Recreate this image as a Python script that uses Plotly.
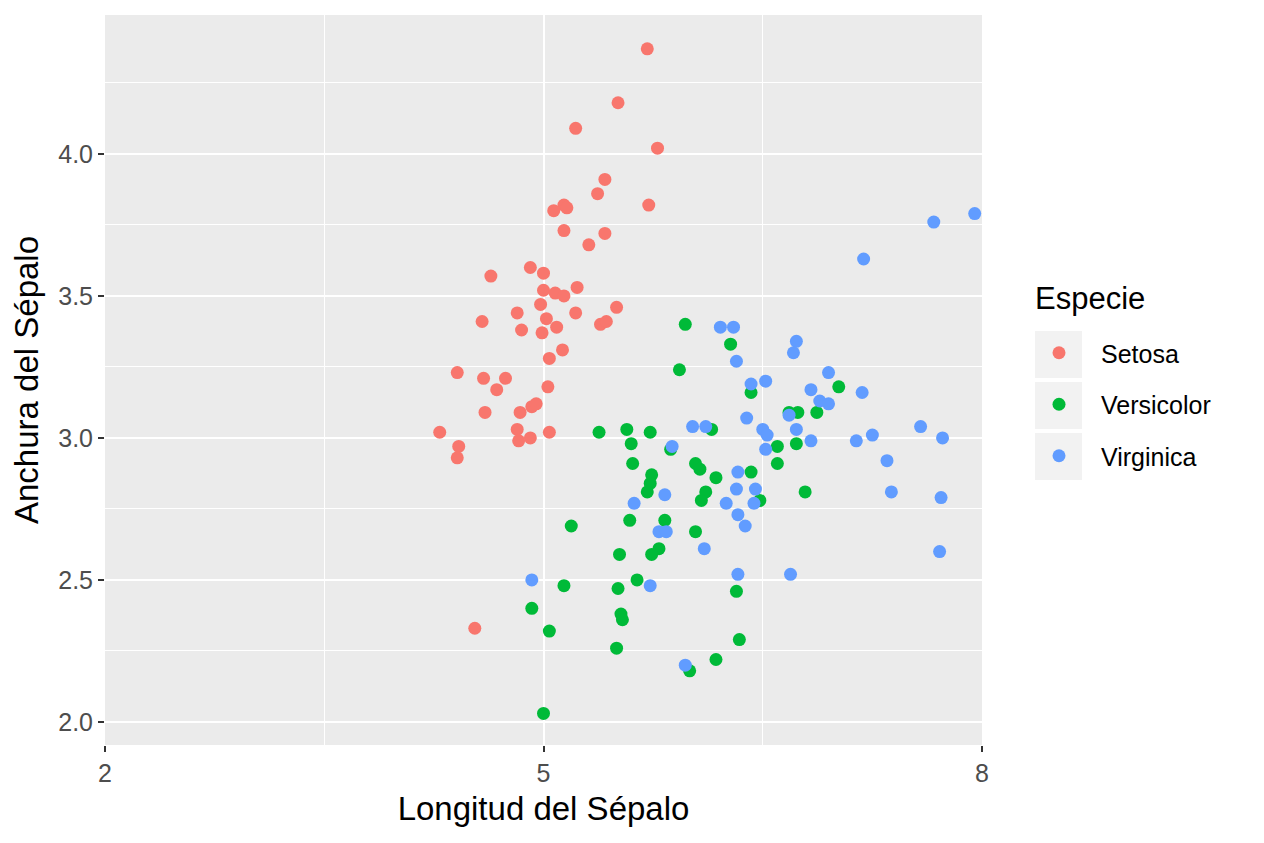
import plotly.graph_objects as go

# ---------------------------------------------------------
# Data (jittered iris sepal measures)
# ---------------------------------------------------------
species = ["Setosa", "Versicolor", "Virginica"]
colors = ["#F8766D", "#00BA38", "#619CFF"]

setosa_x = [5.71, 5.51, 5.22, 5.78, 5.42, 5.37, 5.14, 5.16, 5.07, 5.72,
            5.14, 5.42, 5.31, 4.64, 4.91, 5.00, 5.00, 5.08, 5.14, 5.23,
            4.98, 4.82, 4.58, 5.02, 5.22, 5.50, 5.39, 5.43, 4.85, 5.09,
            4.99, 5.13, 5.04, 4.41, 4.59, 4.74, 4.68, 5.03, 4.92, 4.95,
            4.60, 4.84, 4.29, 4.82, 4.83, 4.91, 5.04, 4.42, 4.41, 4.53]
setosa_y = [4.37, 4.18, 4.09, 4.02, 3.91, 3.86, 3.82, 3.81, 3.80, 3.82,
            3.73, 3.72, 3.68, 3.57, 3.60, 3.58, 3.52, 3.51, 3.50, 3.53,
            3.47, 3.44, 3.41, 3.42, 3.44, 3.46, 3.40, 3.41, 3.38, 3.39,
            3.37, 3.31, 3.28, 3.23, 3.21, 3.21, 3.17, 3.18, 3.11, 3.12,
            3.09, 3.09, 3.02, 3.03, 2.99, 3.00, 3.02, 2.97, 2.93, 2.33]

versicolor_x = [5.97, 6.28, 5.93, 6.42, 6.68, 6.74, 6.87, 7.02, 6.60, 6.73,
                6.60, 6.79, 6.15, 5.38, 5.57, 5.60, 5.73, 5.87, 5.61, 6.04,
                6.07, 6.18, 6.42, 5.74, 5.73, 5.71, 6.11, 6.08, 6.48, 5.59,
                5.83, 5.19, 6.04, 5.52, 5.79, 5.74, 5.14, 5.64, 5.51, 4.92,
                5.53, 5.54, 5.04, 5.50, 5.00, 6.32, 6.34, 6.18, 6.00]
versicolor_y = [3.40, 3.33, 3.24, 3.16, 3.09, 3.09, 3.09, 3.18, 2.97, 2.98,
                2.91, 2.81, 3.03, 3.02, 3.03, 2.98, 3.02, 2.96, 2.91, 2.91,
                2.89, 2.86, 2.88, 2.87, 2.84, 2.81, 2.81, 2.78, 2.78, 2.71,
                2.71, 2.69, 2.67, 2.59, 2.61, 2.59, 2.48, 2.50, 2.47, 2.40,
                2.38, 2.36, 2.32, 2.26, 2.03, 2.46, 2.29, 2.22, 2.18]

virginica_x = [6.21, 6.30, 6.73, 6.71, 6.32, 6.42, 6.52, 6.83, 6.89, 6.95,
               6.68, 6.39, 6.50, 6.53, 6.52, 6.73, 6.83, 6.02, 6.11, 5.88,
               6.33, 5.83, 5.62, 6.32, 6.45, 6.25, 6.44, 6.33, 6.38, 5.79,
               5.84, 6.10, 6.33, 6.69, 4.92, 5.73, 5.97, 7.67, 7.95, 7.19,
               6.95, 7.18, 7.58, 7.73, 7.14, 7.25, 7.35, 7.38, 7.72, 7.71]
virginica_y = [3.39, 3.39, 3.34, 3.30, 3.27, 3.19, 3.20, 3.17, 3.13, 3.12,
               3.08, 3.07, 3.03, 3.01, 2.96, 3.03, 2.99, 3.04, 3.04, 2.97,
               2.88, 2.80, 2.77, 2.82, 2.82, 2.77, 2.77, 2.73, 2.69, 2.67,
               2.67, 2.61, 2.52, 2.52, 2.50, 2.48, 2.20, 3.76, 3.79, 3.63,
               3.23, 3.16, 3.04, 3.00, 2.99, 3.01, 2.92, 2.81, 2.79, 2.60]

x_ticks = [2, 5, 8]
y_ticks = [2.0, 2.5, 3.0, 3.5, 4.0]

series_x = [setosa_x, versicolor_x, virginica_x]
series_y = [setosa_y, versicolor_y, virginica_y]

FONT = "Liberation Sans, Arial, sans-serif"

# page body adds ~8px offset, so the figure is a bit smaller than the window
W, H = 1256, 835
L, R, T, B = 97, 282, 7, 98
PW = W - L - R          # panel width in px
PH = H - T - B          # panel height in px


def px_x(px):
    # figure-pixel -> paper x
    return (px - L) / PW


def px_y(py):
    # figure-pixel -> paper y
    return (H - B - py) / PH


# ---------------------------------------------------------
# Scatter
# ---------------------------------------------------------
fig = go.Figure()
for name, col, xs, ys in zip(species, colors, series_x, series_y):
    fig.add_trace(go.Scatter(
        x=xs, y=ys,
        mode="markers",
        name=name,
        legendgroup=name,
        marker=dict(color=col, size=13, line=dict(width=0)),
    ))

# grey key backgrounds behind the legend symbols (ggplot style)
key_rows = [(323, 370), (374, 421), (425, 472)]
for top, bot in key_rows:
    fig.add_shape(
        type="rect", xref="paper", yref="paper",
        x0=px_x(1027), x1=px_x(1074),
        y0=px_y(bot), y1=px_y(top),
        fillcolor="#F2F2F2", line=dict(width=0), layer="below",
    )

fig.add_annotation(
    text="Especie", xref="paper", yref="paper",
    x=px_x(1025), y=px_y(290),
    xanchor="left", yanchor="middle", showarrow=False,
    font=dict(family=FONT, size=31, color="black"),
)

fig.update_layout(
    width=W, height=H,
    margin=dict(l=L, r=R, t=T, b=B),
    paper_bgcolor="white",
    plot_bgcolor="#EBEBEB",
    font=dict(family=FONT, color="black"),
    legend=dict(
        x=px_x(1009), y=px_y(322),
        xanchor="left", yanchor="top",
        itemwidth=74,
        tracegroupgap=16,
        traceorder="grouped",
        font=dict(family=FONT, size=25, color="black"),
        bgcolor="rgba(0,0,0,0)",
    ),
    xaxis=dict(
        range=[2, 8],
        tickvals=x_ticks,
        ticktext=[str(v) for v in x_ticks],
        showgrid=True, gridcolor="white", gridwidth=2,
        minor=dict(dtick=1.5, tick0=2, showgrid=True, gridcolor="white",
                   gridwidth=1, ticks=""),
        zeroline=False, showline=False,
        ticks="outside", ticklen=6, tickwidth=2, tickcolor="#333333",
        tickfont=dict(family=FONT, size=25, color="#4D4D4D"),
        title=dict(text="Longitud del Sépalo", standoff=10,
                   font=dict(family=FONT, size=33, color="black")),
    ),
    yaxis=dict(
        range=[1.919, 4.489],
        tickvals=y_ticks,
        ticktext=[f"{v:.1f}" for v in y_ticks],
        showgrid=True, gridcolor="white", gridwidth=2,
        minor=dict(dtick=0.25, tick0=2, showgrid=True, gridcolor="white",
                   gridwidth=1, ticks=""),
        zeroline=False, showline=False,
        ticks="outside", ticklen=6, tickwidth=2, tickcolor="#333333",
        tickfont=dict(family=FONT, size=25, color="#4D4D4D"),
        title=dict(text="Anchura del Sépalo", standoff=10,
                   font=dict(family=FONT, size=33, color="black")),
    ),
)

fig.write_html("out.html")
